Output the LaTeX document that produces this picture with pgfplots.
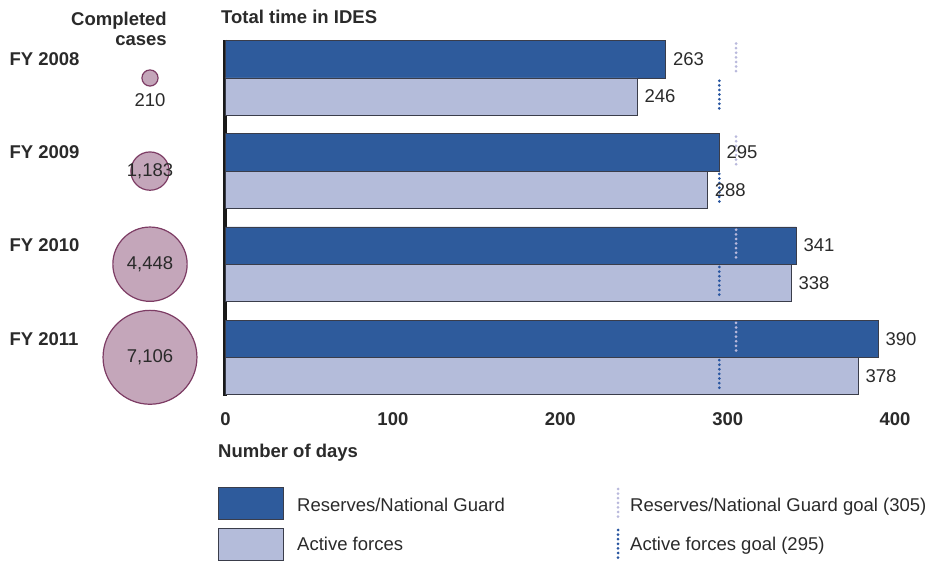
\documentclass[border=0pt]{standalone}
\usepackage{fontspec}
\setmainfont{Liberation Sans}
\usepackage{pgfplots}
\pgfplotsset{compat=1.18}
\usepackage{pgfplotstable}

\definecolor{rng}{HTML}{2E5B9C}
\definecolor{act}{HTML}{B4BCDA}
\definecolor{baredge}{HTML}{3A3D4A}
\definecolor{bubfill}{HTML}{C4A6BA}
\definecolor{bubedge}{HTML}{7D3C64}
\definecolor{rnggoal}{HTML}{B9B9DC}
\definecolor{actgoal}{HTML}{2855A0}
\definecolor{txt}{HTML}{2A2A2A}

\newcommand\lbl{\fontsize{18.5}{20.5}\selectfont}

% Average days in IDES by fiscal year
\pgfplotstableread{
year rng act
2008 263 246
2009 295 288
2010 341 338
2011 390 378
}\daystable

% Completed cases; bubble area follows the count
\pgfplotstableread{
x year cases dy
-45.1 2008 210 -22
-45.1 2009 1183 0
-45.1 2010 4448 0
-45.1 2011 7106 0
}\casestable

\tikzset{goaldots/.style={line width=3pt, line cap=round, dash pattern=on 0pt off 4.6pt}}

\begin{document}
\begin{tikzpicture}
\useasboundingbox (-225.5pt,-165pt) rectangle (722.5pt,396pt);
\begin{axis}[
  at={(0pt,0pt)}, anchor=south west,
  scale only axis, width=669.6pt, height=356pt,
  xmin=0, xmax=400, ymin=2007.592, ymax=2011.4157,
  y dir=reverse, clip=false,
  axis lines*=left,
  x axis line style={draw=none},
  y axis line style={line width=4pt, draw=black!90},
  xtick={0,100,200,300,400},
  ytick={2007.8,2008.8,2009.8,2010.8},
  yticklabels={FY 2008,FY 2009,FY 2010,FY 2011},
  major tick length=0pt,
  /pgf/number format/assume math mode=true,
  tick label style={font=\lbl\bfseries, text=txt},
  xticklabel style={yshift=-13.5pt},
  yticklabel style={anchor=west, xshift=-219.5pt},
  unbounded coords=jump,
]
% Reserves/National Guard
\addplot[xbar, bar width=0.4, bar shift=-0.2, fill=rng, draw=baredge, line width=0.9pt,
  nodes near coords,
  every node near coord/.append style={font=\lbl, text=txt, xshift=3.5pt, yshift=18.6pt}]
  table[x=rng, y=year] {\daystable};
% Active forces
\addplot[xbar, bar width=0.4, bar shift=0.2, fill=act, draw=baredge, line width=0.9pt,
  nodes near coords,
  every node near coord/.append style={font=\lbl, text=txt, xshift=3.5pt, yshift=-18.6pt}]
  table[x=act, y=year] {\daystable};
% Goals
\addplot[rnggoal, goaldots]
  coordinates {(305,2007.63) (305,2007.97) (305,nan)
               (305,2008.63) (305,2008.97) (305,nan)
               (305,2009.63) (305,2009.97) (305,nan)
               (305,2010.63) (305,2010.97)};
\addplot[actgoal, goaldots]
  coordinates {(295,2008.03) (295,2008.37) (295,nan)
               (295,2009.03) (295,2009.37) (295,nan)
               (295,2010.03) (295,2010.37) (295,nan)
               (295,2011.03) (295,2011.37)};
% Completed cases: bubbles
\addplot[scatter, only marks, mark=*,
  scatter/use mapped color={draw=bubedge, fill=bubfill},
  mark options={line width=1.2pt},
  point meta=\thisrow{cases},
  visualization depends on={0.557*sqrt(\thisrow{cases}) \as \rad},
  scatter/@pre marker code/.append style={/tikz/mark size=\rad}]
  table[x=x, y=year] {\casestable};
% Completed cases: counts
\addplot[draw=none, mark=none,
  point meta=\thisrow{cases},
  visualization depends on={\thisrow{dy} \as \dy},
  nodes near coords={\pgfmathprintnumber[1000 sep={,}]{\pgfplotspointmeta}},
  every node near coord/.append style={anchor=center, yshift=\dy, font=\lbl, text=txt}]
  table[x=x, y=year] {\casestable};
\end{axis}
\begin{scope}[x=1pt, y=-1pt, shift={(-225.5pt,396pt)}]
  \node[anchor=north east, align=right, font=\lbl\bfseries, text=txt, inner sep=0pt]
    at (167,11.5) {Completed\\cases};
  \node[anchor=base west, font=\lbl\bfseries, text=txt, inner sep=0pt]
    at (221,23.3) {Total time in IDES};
  \node[anchor=base west, font=\lbl\bfseries, text=txt, inner sep=0pt]
    at (218,457.5) {Number of days};
  % legend
  \draw[fill=rng, draw=baredge, line width=0.9pt] (218,487) rectangle (283,519);
  \draw[fill=act, draw=baredge, line width=0.9pt] (218,528) rectangle (283,560);
  \node[anchor=base west, font=\lbl, text=txt, inner sep=0pt] at (297,511.5) {Reserves/National Guard};
  \node[anchor=base west, font=\lbl, text=txt, inner sep=0pt] at (297,550.5) {Active forces};
  \draw[rnggoal, goaldots] (618,489) -- (618,517);
  \draw[actgoal, goaldots] (618,530) -- (618,558);
  \node[anchor=base west, font=\lbl, text=txt, inner sep=0pt] at (630,511.5) {Reserves/National Guard goal (305)};
  \node[anchor=base west, font=\lbl, text=txt, inner sep=0pt] at (630,550.5) {Active forces goal (295)};
\end{scope}
\end{tikzpicture}
\end{document}
